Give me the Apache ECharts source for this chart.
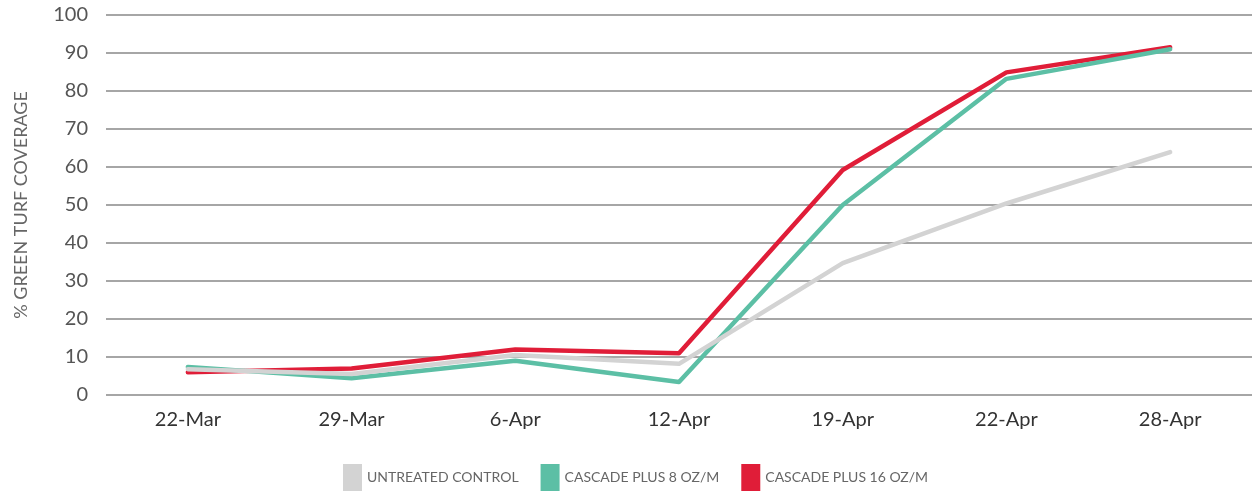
<!DOCTYPE html>
<html>
<head>
<meta charset="utf-8">
<script src="https://cdn.jsdelivr.net/npm/echarts@6/dist/echarts.min.js"></script>
<style>
  html, body { margin: 0; padding: 0; background: #fff; }
  #chart { width: 1252px; height: 496px; }
</style>
</head>
<body>
<div id="chart"></div>
<script>
const categories = ['22-Mar', '29-Mar', '6-Apr', '12-Apr', '19-Apr', '22-Apr', '28-Apr']
const seriesNames = ['UNTREATED CONTROL', 'CASCADE PLUS 8 OZ/M', 'CASCADE PLUS 16 OZ/M']
const untreated = [6.8, 5.5, 10.5, 8.2, 34.7, 50.4, 63.9]
const cascade8 = [7.4, 4.4, 9.0, 3.4, 50.0, 83.2, 91.0]
const cascade16 = [6.0, 7.0, 12.0, 11.0, 59.2, 84.9, 91.5]
const colors = ['#d3d3d3', '#5cbfa5', '#e01d38']

const fontFamily = 'Lato, "Open Sans", sans-serif'

function lineSeries(name, data, color, z) {
    return {
        name: name,
        type: 'line',
        data: data,
        symbol: 'none',
        z: z,
        lineStyle: { color: color, width: 4.5, cap: 'round', join: 'round' },
        itemStyle: { color: color }
    }
}

const chart = echarts.init(document.getElementById('chart'))
chart.setOption({
    animation: false,
    textStyle: { fontFamily: fontFamily },
    grid: { left: 106, right: -4, top: 15, bottom: 101 },
    legend: {
        data: seriesNames,
        bottom: 0,
        left: 338,
        itemWidth: 19,
        itemHeight: 27,
        itemGap: 22,
        icon: 'rect',
        textStyle: { fontSize: 14, color: '#666', fontFamily: fontFamily }
    },
    xAxis: {
        type: 'category',
        data: categories,
        boundaryGap: true,
        axisLine: { show: false },
        axisTick: { show: false },
        axisLabel: { fontSize: 20, color: '#333', margin: 15 }
    },
    yAxis: {
        type: 'value',
        min: 0,
        max: 100,
        interval: 10,
        name: '% GREEN TURF COVERAGE',
        nameLocation: 'center',
        nameGap: 76,
        nameTextStyle: { fontSize: 18, color: '#666' },
        axisLine: { show: false },
        axisTick: { show: false },
        axisLabel: { fontSize: 20, color: '#555', margin: 18 },
        splitLine: { lineStyle: { color: '#888', width: 1.5 } }
    },
    series: [
        lineSeries(seriesNames[0], untreated, colors[0], 4),
        lineSeries(seriesNames[1], cascade8, colors[1], 3),
        lineSeries(seriesNames[2], cascade16, colors[2], 2)
    ]
})
</script>
</body>
</html>
